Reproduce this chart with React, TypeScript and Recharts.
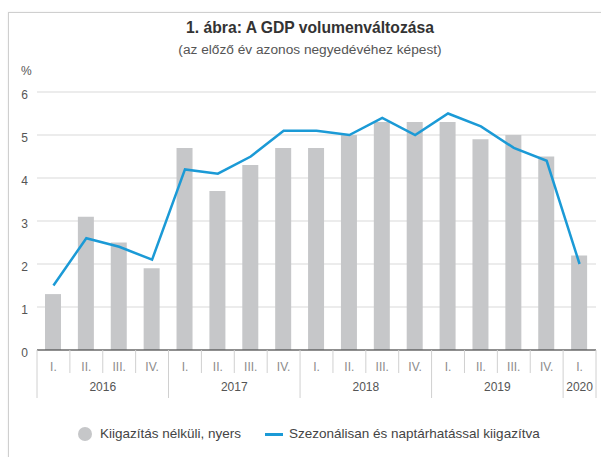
import { ComposedChart, Bar, Line, XAxis, YAxis, CartesianGrid } from "recharts";

const quarters = ["I.", "II.", "III.", "IV.", "I.", "II.", "III.", "IV.", "I.", "II.", "III.", "IV.", "I.", "II.", "III.", "IV.", "I."];
const periodYears = ["2016", "2016", "2016", "2016", "2017", "2017", "2017", "2017", "2018", "2018", "2018", "2018", "2019", "2019", "2019", "2019", "2020"];
const rawGrowth = [1.3, 3.1, 2.5, 1.9, 4.7, 3.7, 4.3, 4.7, 4.7, 5.0, 5.3, 5.3, 5.3, 4.9, 5.0, 4.5, 2.2];
const adjustedGrowth = [1.5, 2.6, 2.4, 2.1, 4.2, 4.1, 4.5, 5.1, 5.1, 5.0, 5.4, 5.0, 5.5, 5.2, 4.7, 4.4, 2.0];
const yTicks = [0, 1, 2, 3, 4, 5, 6];

const rawName = "Kiigazítás nélküli, nyers";
const adjustedName = "Szezonálisan és naptárhatással kiigazítva";

const data = quarters.map((q, i) => ({
  quarter: q,
  year: periodYears[i],
  raw: rawGrowth[i],
  adjusted: adjustedGrowth[i],
}));

const W = 601;
const H = 457;
const margin = { top: 92, right: 5, left: 7, bottom: 57 };
const yAxisWidth = 30;
const plotWidth = W - margin.left - margin.right - yAxisWidth;
const band = plotWidth / data.length;

const BAR_COLOR = "#c6c7c9";
const LINE_COLOR = "#1b9ad6";
const FONT = "'Liberation Sans', Arial, sans-serif";

function QuarterTick(props: any) {
  const { x, y, index } = props;
  const left = x - band / 2;
  const right = x + band / 2;
  const startsYear = index === 0 || periodYears[index] !== periodYears[index - 1];
  const isLast = index === data.length - 1;
  const count = periodYears.filter((p) => p === periodYears[index]).length;
  return (
    <g>
      <line x1={left} x2={left} y1={y} y2={y + (startsYear ? 48 : 23)} stroke="#d0d0d0" />
      {isLast && <line x1={right} x2={right} y1={y} y2={y + 48} stroke="#d0d0d0" />}
      <text x={x} y={y + 21} textAnchor="middle" fontSize={12} fill="#8c8c8c" fontFamily={FONT}>
        {quarters[index]}
      </text>
      {startsYear && (
        <text x={left + (count * band) / 2} y={y + 41} textAnchor="middle" fontSize={12} fill="#555" fontFamily={FONT}>
          {periodYears[index]}
        </text>
      )}
    </g>
  );
}

function ValueTick(props: any) {
  const { x, y, payload } = props;
  return (
    <text x={x} y={y + 7} textAnchor="end" fontSize={12} fill="#555" fontFamily={FONT}>
      {payload.value}
    </text>
  );
}

export default function App() {
  return (
    <div style={{ position: "absolute", left: 0, top: 0, width: W, height: H, overflow: "hidden", background: "#fff", fontFamily: FONT }}>
      <div style={{ position: "absolute", left: 8, top: 12, width: 640, height: 500, border: "1px solid #cfcfcf", boxShadow: "0 0 2px rgba(0,0,0,0.08)" }} />
      <div style={{ position: "absolute", left: 8, top: 19, width: 604, textAlign: "center", fontSize: 15.7, lineHeight: "18px", fontWeight: "bold", color: "#333" }}>
        1. ábra: A GDP volumenváltozása
      </div>
      <div style={{ position: "absolute", left: 8, top: 42, width: 604, textAlign: "center", fontSize: 13.7, lineHeight: "16px", color: "#555" }}>
        (az előző év azonos negyedévéhez képest)
      </div>
      <div style={{ position: "absolute", left: 21, top: 64, fontSize: 12, color: "#555" }}>%</div>
      <div style={{ position: "absolute", left: 0, top: 0 }}>
        <ComposedChart width={W} height={H} data={data} margin={margin} barCategoryGap={0}>
          <CartesianGrid vertical={false} stroke="#d9d9d9" />
          <YAxis
            domain={[0, 6]}
            ticks={yTicks}
            width={yAxisWidth}
            axisLine={false}
            tickLine={false}
            tickSize={0}
            tickMargin={9}
            tick={<ValueTick />}
          />
          <XAxis
            dataKey="quarter"
            height={50}
            interval={0}
            tickLine={false}
            tickSize={0}
            tickMargin={0}
            axisLine={{ stroke: "#333" }}
            tick={<QuarterTick />}
          />
          <Bar dataKey="raw" name={rawName} fill={BAR_COLOR} barSize={16} isAnimationActive={false} />
          <Line
            dataKey="adjusted"
            name={adjustedName}
            type="linear"
            stroke={LINE_COLOR}
            strokeWidth={2.5}
            dot={false}
            activeDot={false}
            isAnimationActive={false}
          />
        </ComposedChart>
      </div>
      <div style={{ position: "absolute", left: 78, top: 427, width: 14, height: 14, borderRadius: 7, background: BAR_COLOR }} />
      <div style={{ position: "absolute", left: 100, top: 426, fontSize: 13.5, color: "#444" }}>{rawName}</div>
      <div style={{ position: "absolute", left: 265, top: 433, width: 18, height: 3, background: LINE_COLOR }} />
      <div style={{ position: "absolute", left: 289, top: 426, fontSize: 13.5, color: "#444" }}>{adjustedName}</div>
    </div>
  );
}
